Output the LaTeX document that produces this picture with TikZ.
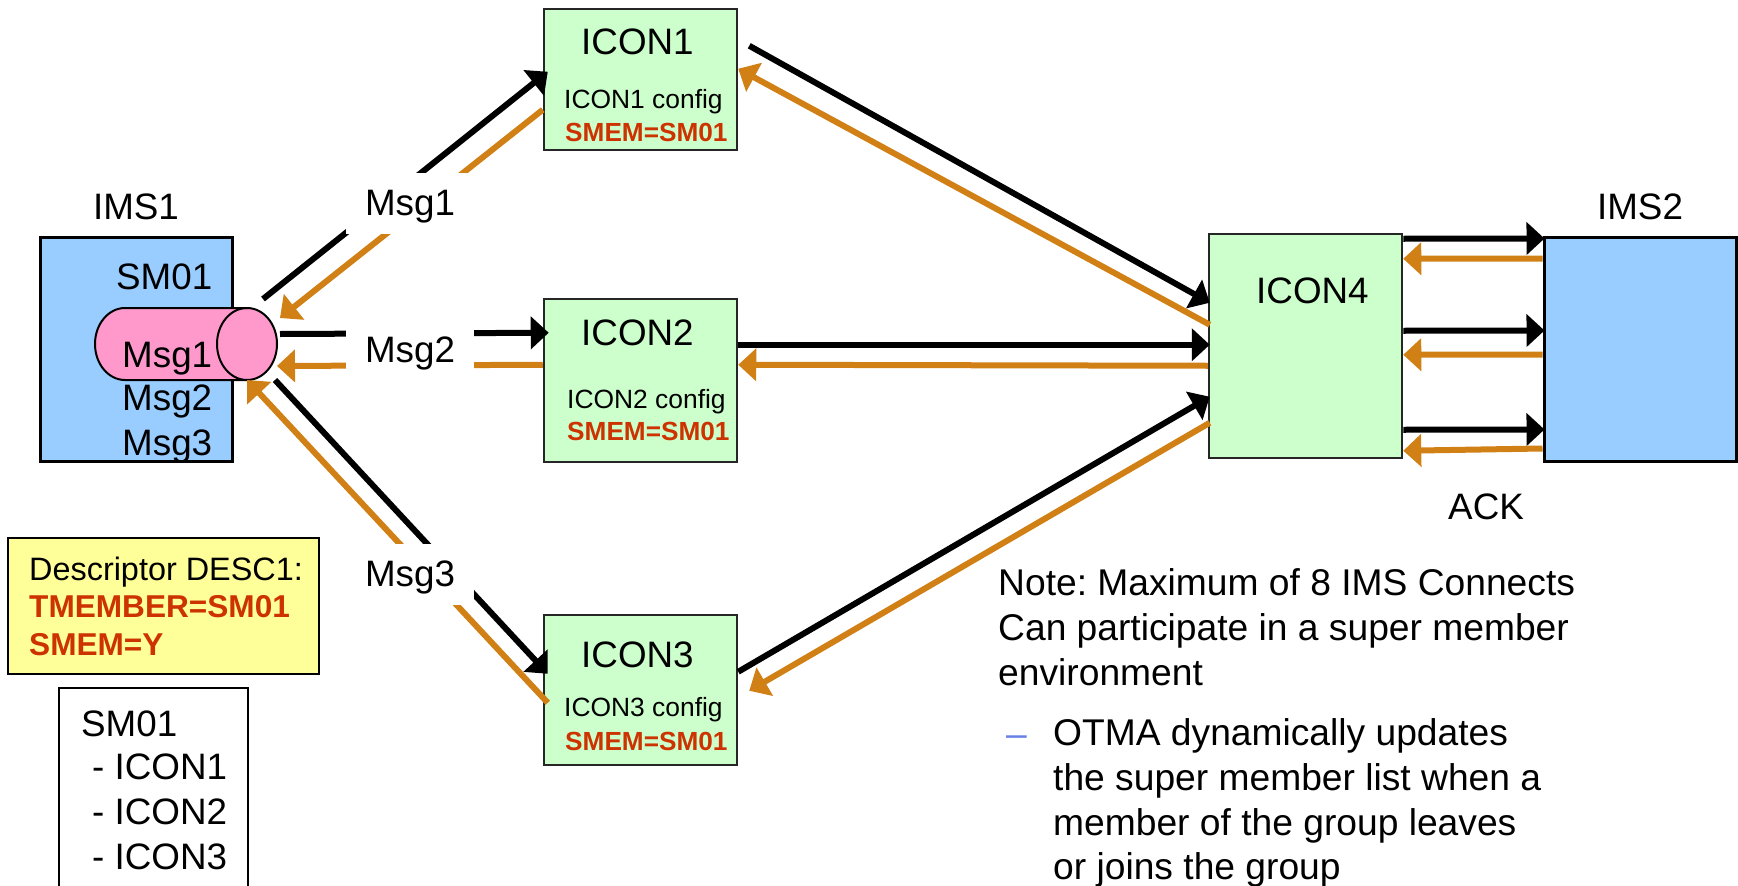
\documentclass[tikz,border=0pt]{standalone}
\usepackage{fontspec}
\setmainfont{Liberation Sans}
\usetikzlibrary{calc}
\usetikzlibrary{arrows.meta}
\definecolor{imsblue}{HTML}{99CCFF}
\definecolor{icongreen}{HTML}{CCFFCC}
\definecolor{qpink}{HTML}{FF99CC}
\definecolor{descyellow}{HTML}{FFFF99}
\definecolor{smemred}{HTML}{CC3300}
\definecolor{ackorange}{HTML}{D08015}
\definecolor{dashblue}{HTML}{6680E6}
\frenchspacing
\begin{document}
\begin{tikzpicture}[x=1pt,y=-1pt]
\tikzstyle{imsbox}=[rectangle,draw,line width=3pt,fill=imsblue,minimum width=192pt,minimum height=224pt]
\tikzstyle{iconbox}=[rectangle,draw=black!85,line width=2.5pt,fill=icongreen,minimum width=193pt]
\tikzstyle{bigtext}=[anchor=base west,inner sep=0pt,font=\fontsize{36.8}{36.8}\selectfont]
\tikzstyle{notetext}=[anchor=base west,inner sep=0pt,font=\fontsize{37.2}{37.2}\selectfont]
\tikzstyle{smalltext}=[anchor=base west,inner sep=0pt,font=\fontsize{26.4}{26.4}\selectfont]
\tikzstyle{smemtext}=[anchor=base west,inner sep=0pt,text=smemred,font=\fontsize{26.2}{26.2}\selectfont\bfseries]
\tikzstyle{desctext}=[anchor=base west,inner sep=0pt,font=\fontsize{32.4}{32.4}\selectfont]
\tikzstyle{descbold}=[anchor=base west,inner sep=0pt,text=smemred,font=\fontsize{31.6}{31.6}\selectfont\bfseries]
\tikzstyle{msglabel}=[rectangle,fill=white,inner sep=0pt,text height=30pt,text depth=5pt,minimum width=128pt,minimum height=61pt,font=\fontsize{36.8}{36.8}\selectfont]
\tikzstyle{outline}=[line width=6pt,black,-{Triangle[length=18pt,width=32pt]}]
\tikzstyle{backline}=[line width=6pt,ackorange,-{Triangle[length=18pt,width=32pt]}]
\useasboundingbox (0,0) rectangle (1738,886);
% boxes
\node[imsbox] at(136.5, 349) (ims1) {};
\node[imsbox] at(1640, 349) (ims2) {};
\node[iconbox,minimum height=141pt] at(640.5, 79.5) (icon1) {};
\node[iconbox,minimum height=163pt] at(640.5, 380.5) (icon2) {};
\node[iconbox,minimum height=150pt] at(640.5, 690) (icon3) {};
\node[iconbox,minimum height=224pt] at(1305.5, 346) (icon4) {};
% queue
\coordinate (msgq) at(186, 344);
\draw[line width=2pt,fill=qpink] (125,308) arc[start angle=90,end angle=270,x radius=30pt,y radius=36pt] -- (247,380) arc[start angle=-90,end angle=90,x radius=30pt,y radius=36pt] -- cycle;
\draw[line width=2pt] (247,308) arc[start angle=90,end angle=270,x radius=30pt,y radius=36pt];
% box texts
\node[bigtext,anchor=base] at(136, 219) (ims1name) {IMS1};
\node[bigtext,anchor=base] at(1640, 219) (ims2name) {IMS2};
\node[bigtext] at(116, 289) (ims1sm) {SM01};
\node[bigtext] at(122, 367) (qmsg1) {Msg1};
\node[bigtext] at(122, 410) (qmsg2) {Msg2};
\node[bigtext] at(122, 455) (qmsg3) {Msg3};
\node[bigtext] at(581, 54) (icon1name) {ICON1};
\node[smalltext] at(564, 108) (icon1cfg) {ICON1 config};
\node[smemtext] at(565, 141) (icon1smem) {SMEM=SM01};
\node[bigtext] at(581, 345) (icon2name) {ICON2};
\node[smalltext] at(567, 408) (icon2cfg) {ICON2 config};
\node[smemtext] at(567, 440) (icon2smem) {SMEM=SM01};
\node[bigtext] at(581, 667) (icon3name) {ICON3};
\node[smalltext] at(564, 716) (icon3cfg) {ICON3 config};
\node[smemtext] at(565, 750) (icon3smem) {SMEM=SM01};
\node[bigtext] at(1256, 303) (icon4name) {ICON4};
\node[bigtext] at(1448, 519) (ack) {ACK};
% left side
\draw[outline] ($(msgq)+(77,-45)$) -- ($(icon1.north west)+(5,64)$);
\draw[backline] ($(icon1.north west)+(0,102)$) -- ($(msgq)+(94,-26)$);
\draw[outline] ($(msgq)+(94,-10)$) -- ($(icon2.north west)+(6,35)$);
\draw[backline] ($(icon2.north west)+(0,67)$) -- ($(msgq)+(91,22)$);
\draw[outline] ($(msgq)+(89,36)$) -- ($(icon3.north west)+(5,60)$);
\draw[backline] ($(icon3.north west)+(5,89)$) -- ($(msgq)+(61,36)$);
% middle
\draw[outline] ($(icon1.north east)+(11,38)$) -- ($(icon4.north west)+(2,70)$);
\draw[backline] ($(icon4.north west)+(2,92)$) -- ($(icon1.north east)+(0,61)$);
\draw[outline] ($(icon2.north east)+(0,47)$) -- ($(icon4.north west)+(2,112)$);
\draw[backline] ($(icon4.north west)+(0,133)$) -- ($(icon2.north east)+(0,67)$);
\draw[outline] ($(icon3.north east)+(0,58)$) -- ($(icon4.north west)+(2,164)$);
\draw[backline] ($(icon4.north west)+(2,190)$) -- ($(icon3.north east)+(11,77)$);
% right side
\draw[outline] ($(icon4.north east)+(0,6)$) -- ($(ims2.north west)+(2,3)$);
\draw[backline] ($(ims2.north west)+(0,23)$) -- ($(icon4.north east)+(0,26)$);
\draw[outline] ($(icon4.north east)+(0,98)$) -- ($(ims2.north west)+(2,95)$);
\draw[backline] ($(ims2.north west)+(0,119)$) -- ($(icon4.north east)+(0,122)$);
\draw[outline] ($(icon4.north east)+(0,197)$) -- ($(ims2.north west)+(2,194)$);
\draw[backline] ($(ims2.north west)+(0,213)$) -- ($(icon4.north east)+(0,218)$);
% labels over the lines
\node[msglabel] at(410, 203) (msg1) {Msg1};
\node[msglabel] at(410, 350) (msg2) {Msg2};
\node[msglabel] at(410, 574) (msg3) {Msg3};
% descriptor and member list
\node[rectangle,draw,line width=2pt,fill=descyellow,minimum width=311pt,minimum height=136pt] at(163.5, 606) (descbox) {};
\node[desctext] at(29, 580) (desc1) {Descriptor DESC1:};
\node[descbold] at(29, 617) (desc2) {TMEMBER=SM01};
\node[descbold] at(29, 655) (desc3) {SMEM=Y};
\node[rectangle,draw,line width=2pt,minimum width=189pt,minimum height=230pt] at(153.5, 803) (listbox) {};
\node[bigtext] at(81, 736) (list0) {SM01};
\node[bigtext] at(92, 779) (list1) {- ICON1};
\node[bigtext] at(92, 824) (list2) {- ICON2};
\node[bigtext] at(92, 869) (list3) {- ICON3};
% note
\node[notetext] at(998, 595) (note1) {Note: Maximum of 8 IMS Connects};
\node[notetext] at(998, 640) (note2) {Can participate in a super member};
\node[notetext] at(998, 685) (note3) {environment};
\node[notetext,text=dashblue] at(1006, 746) (notedash) {--};
\node[notetext] at(1053, 745) (note4) {OTMA dynamically updates};
\node[notetext] at(1053, 790) (note5) {the super member list when a};
\node[notetext] at(1053, 835) (note6) {member of the group leaves};
\node[notetext] at(1053, 879) (note7) {or joins the group};
\end{tikzpicture}
\end{document}
